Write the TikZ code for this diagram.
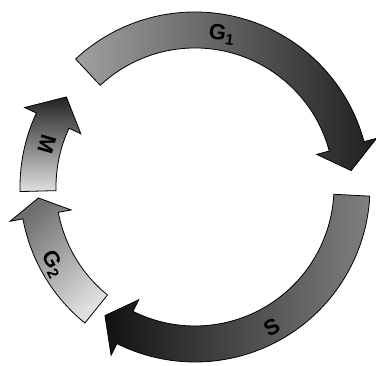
\documentclass[tikz,border=0pt]{standalone}
\usepackage{fontspec}
\setmainfont{Liberation Sans}
\usepackage{tikz}
\usetikzlibrary{calc}
\newcommand{\radmid}{157pt}
\newcommand{\radout}{175pt}
\newcommand{\radin}{139pt}
\newcommand{\radhi}{188pt}
\newcommand{\radlo}{126pt}
% curved arrow: style, tail angle, head base angle, tip angle
\newcommand{\phasearrow}[4]{%
  \draw[phase,#1] (#2:\radout) arc[start angle=#2,end angle=#3,radius=\radout]
    -- (#3:\radhi) -- (#4:\radmid) -- (#3:\radlo) -- (#3:\radin)
    arc[start angle=#3,end angle=#2,radius=\radin] -- cycle;}
\tikzset{
  phase/.style={draw=black,line width=0.8pt,line join=miter},
  phaselabel/.style={font=\fontsize{22}{26}\selectfont\bfseries,inner sep=0pt}
}
\begin{document}
\begin{tikzpicture}
  \useasboundingbox (-195pt,-179pt) rectangle (181pt,187pt);
  \phasearrow{left color=black!37,right color=black!88}{133}{15}{6}
  \phasearrow{left color=black!93,right color=black!50}{-3}{-116.5}{-125}
  \phasearrow{top color=black!57,bottom color=black!12,shading angle=40}{231}{190.5}{184}
  \phasearrow{top color=black!87,bottom color=black!12}{181.5}{155}{145}
  \node[phaselabel,rotate=-8] (g1) at (80:155pt) {G\textsubscript{1}};
  \node[phaselabel,rotate=28.6] (s) at (-61.4:160pt) {S};
  \node[phaselabel,rotate=-61] (g2) at (208.6:162pt) {G\textsubscript{2}};
  \node[phaselabel,rotate=-106] (m) at (164:154pt) {M};
\end{tikzpicture}
\end{document}
